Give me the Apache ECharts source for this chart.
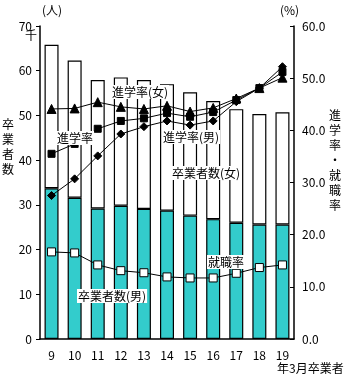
<!DOCTYPE html>
<html>
<head>
<meta charset="utf-8">
<script src="https://cdn.jsdelivr.net/npm/echarts@6/dist/echarts.min.js"></script>
<style>
html, body { margin: 0; padding: 0; background: #fff; }
#chart { width: 350px; height: 388px; }
</style>
</head>
<body>
<div id="chart"></div>
<script>
// 年3月卒業者
var years = ['9', '10', '11', '12', '13', '14', '15', '16', '17', '18', '19'];
// 卒業者数（千人）
var maleGrads = [33.7, 31.6, 29.2, 29.8, 29.1, 28.7, 27.6, 26.8, 26.0, 25.6, 25.6];
var femaleGrads = [32.1, 30.7, 28.7, 28.7, 28.8, 28.3, 27.6, 26.4, 25.4, 24.7, 25.1];
// 率（%）
var rateFemale = [44.1, 44.2, 45.4, 44.5, 44.1, 44.7, 43.6, 44.3, 46.1, 48.1, 50.1];
var rateAll = [35.5, 37.4, 40.3, 41.8, 42.3, 43.3, 42.6, 43.5, 45.8, 48.1, 51.2];
var rateMale = [27.5, 30.7, 35.1, 39.3, 40.7, 41.8, 41.0, 41.8, 45.5, 48.1, 52.2];
var jobRate = [16.7, 16.5, 14.2, 13.1, 12.7, 11.9, 11.7, 11.7, 12.6, 13.7, 14.2];

var font = '"Noto Sans CJK JP", sans-serif';
var chart = echarts.init(document.getElementById('chart'));

function label(text, x, y) {
    return {
        type: 'text', left: x, top: y, z: 100,
        style: { text: text, font: '12px ' + font, fill: '#000', backgroundColor: '#fff', padding: [1, 1] }
    };
}

function rateLine(name, data, symbol, size, fill) {
    return {
        name: name, type: 'line', yAxisIndex: 1, data: data,
        symbol: symbol, symbolSize: size, z: 5,
        lineStyle: { color: '#000', width: 1 },
        itemStyle: { color: fill, borderColor: '#000', borderWidth: 1 }
    };
}

chart.setOption({
    animation: false,
    grid: { left: 40, right: 56, top: 26, bottom: 49 },
    xAxis: {
        type: 'category', data: years,
        axisLine: { lineStyle: { color: '#000', width: 1.5 } },
        axisTick: { inside: true, length: 4, lineStyle: { color: '#000' } },
        axisLabel: { color: '#000', fontSize: 12, fontFamily: font, margin: 10 }
    },
    yAxis: [{
        type: 'value', min: 0, max: 70, interval: 10,
        axisLine: { show: true, lineStyle: { color: '#000', width: 1.5 } },
        axisTick: { show: true, length: 4, lineStyle: { color: '#000' } },
        axisLabel: { color: '#000', fontSize: 12, fontFamily: font, margin: 8 },
        splitLine: { show: false }
    }, {
        type: 'value', min: 0, max: 60, interval: 10,
        axisLine: { show: true, lineStyle: { color: '#000', width: 1.5 } },
        axisTick: { show: true, inside: true, length: 4, lineStyle: { color: '#000' } },
        axisLabel: {
            color: '#000', fontSize: 12, fontFamily: font, margin: 8,
            formatter: function (v) { return v.toFixed(1); }
        },
        splitLine: { show: false }
    }],
    series: [{
        name: '卒業者数(男)', type: 'bar', stack: 'grads', data: maleGrads,
        barWidth: 14,
        itemStyle: { color: '#33CCCC', borderColor: '#000', borderWidth: 1.2 }
    }, {
        name: '卒業者数(女)', type: 'bar', stack: 'grads', data: femaleGrads,
        barWidth: 14,
        itemStyle: { color: '#fff', borderColor: '#000', borderWidth: 1.2 }
    },
    rateLine('進学率(女)', rateFemale, 'triangle', 9, '#000'),
    rateLine('進学率', rateAll, 'rect', 7, '#000'),
    rateLine('進学率(男)', rateMale, 'diamond', 8, '#000'),
    rateLine('就職率', jobRate, 'rect', 8, '#fff')
    ],
    graphic: [
        { type: 'text', left: 42, top: 4, style: { text: '(人)', font: '12px ' + font, fill: '#000' } },
        { type: 'text', left: 280, top: 4, style: { text: '(%)', font: '12px ' + font, fill: '#000' } },
        { type: 'text', left: 25, top: 29, style: { text: '千', font: '12px ' + font, fill: '#000' } },
        { type: 'text', left: 2, top: 117, style: { text: '卒\n業\n者\n数', font: '12px ' + font, fill: '#000', lineHeight: 15 } },
        { type: 'text', left: 329, top: 108, style: { text: '進\n学\n率\n・\n就\n職\n率', font: '12px ' + font, fill: '#000', lineHeight: 15 } },
        { type: 'text', left: 277, top: 362, style: { text: '年3月卒業者', font: '12px ' + font, fill: '#000' } },
        label('進学率(女)', 111, 85),
        label('進学率', 56, 131),
        label('進学率(男)', 162, 130),
        label('卒業者数(女)', 171, 166),
        label('卒業者数(男)', 77, 289),
        label('就職率', 207, 255)
    ]
});
</script>
</body>
</html>
